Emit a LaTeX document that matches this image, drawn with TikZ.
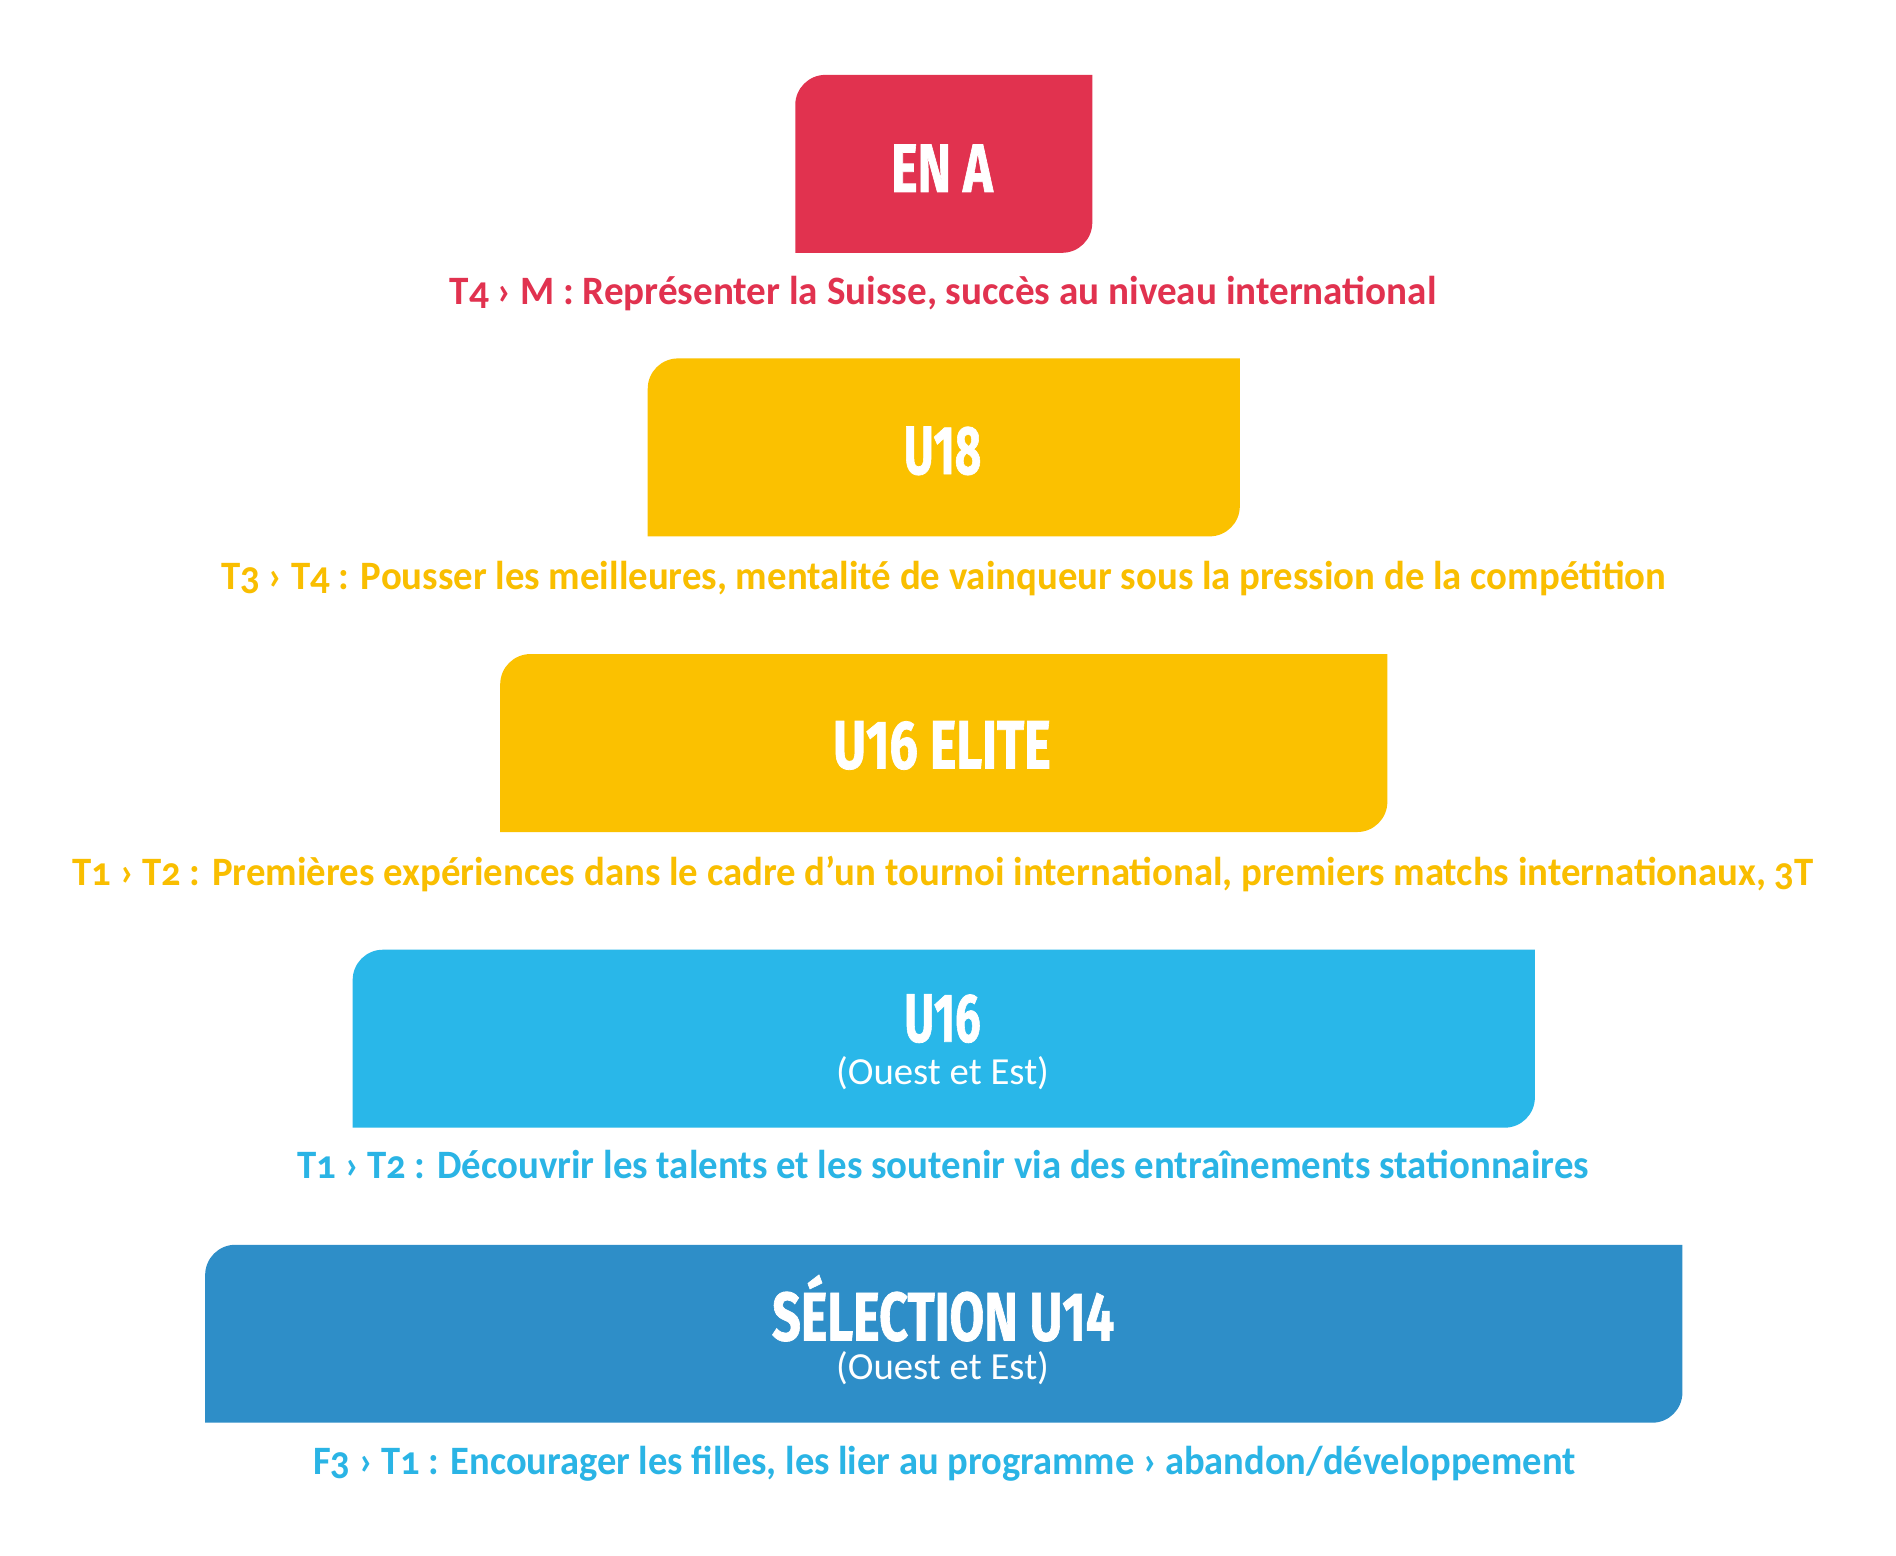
\documentclass[tikz,border=0pt]{standalone}
\usepackage{fontspec}
\setmainfont{Carlito}
\newfontfamily\lblfont[Numbers=OldStyle]{Carlito}
\newfontfamily\ttlfont[FakeBold=1.2]{Fira Sans}
\definecolor{cred}{HTML}{E1324F}
\definecolor{cyel}{HTML}{FBC100}
\definecolor{clblue}{HTML}{29B7E9}
\definecolor{cdblue}{HTML}{2E8EC8}
\definecolor{tyel}{HTML}{F9BE00}
\definecolor{tblue}{HTML}{2AB4E5}
\newsavebox\fitbox
\newcommand\fitw[2]{\sbox\fitbox{#2}\pgfmathsetmacro\fitsx{#1*0.6/\the\wd\fitbox}\scalebox{\fitsx}[1]{\usebox\fitbox}}
\newcommand\ttl[2]{\fitw{#1}{\ttlfont\bfseries\fontsize{34}{34}\selectfont #2}}
\newcommand\lbl[2]{\fitw{#1}{\lblfont\bfseries\fontsize{20}{20}\selectfont #2}}
\newcommand\sub[1]{\fitw{176}{\lblfont\fontsize{19}{19}\selectfont #1}}
\newcommand\tierbox[5]{% name, color, center x, center y, width (display px)
  \node[inner sep=0, minimum width=#5*0.6pt, minimum height=146.5*0.6pt] (#1) at (#3,#4) {};
  \fill[#2] (#1.south west) -- ([yshift=-15pt]#1.north west)
    arc[start angle=180, end angle=90, radius=15pt] -- (#1.north east)
    -- ([yshift=15pt]#1.south east)
    arc[start angle=0, end angle=-90, radius=15pt] -- cycle;}
\tikzset{
  ttlnode/.style={anchor=base, inner sep=0, text=white},
  lblnode/.style={anchor=base, inner sep=0},
}
\begin{document}
\begin{tikzpicture}[x=0.6pt, y=-0.6pt]
\useasboundingbox (0,0) rectangle (1568,1286.8);
\fill[white] (0,0) rectangle (1568,1286.8);

\tierbox{ena}{cred}{780.5}{135.5}{245}
\tierbox{u18}{cyel}{780.5}{370}{489}
\tierbox{u16e}{cyel}{780.5}{614.5}{733}
\tierbox{u16}{clblue}{780.5}{859}{977}
\tierbox{u14}{cdblue}{780.5}{1103}{1221}

\node[ttlnode] (tena) at (779,158.7) {\ttl{84}{EN A}};
\node[ttlnode] (tu18) at (779.5,392) {\ttl{64}{U18}};
\node[ttlnode] (tu16e) at (779,635.6) {\ttl{180}{U16 ELITE}};
\node[ttlnode] (tu16) at (779.5,861.5) {\ttl{63}{U16}};
\node[ttlnode] (su16) at (779.5,897) {\sub{(Ouest et Est)}};
\node[ttlnode] (tu14) at (780,1108.5) {\ttl{283}{SÉLECTION U14}};
\node[ttlnode] (su14) at (779.5,1141) {\sub{(Ouest et Est)}};

\node[lblnode, text=cred] (l1) at (780,252) {\lbl{816}{T4 › M : Représenter la Suisse, succès au niveau international}};
\node[lblnode, text=tyel] (l2) at (780.5,487.5) {\lbl{1195}{T3 › T4 : Pousser les meilleures, mentalité de vainqueur sous la pression de la compétition}};
\node[lblnode, text=tyel] (l3) at (780,732) {\lbl{1440}{T1 › T2 : Premières expériences dans le cadre d’un tournoi international, premiers matchs internationaux, 3T}};
\node[lblnode, text=tblue] (l4) at (780,975) {\lbl{1068}{T1 › T2 : Découvrir les talents et les soutenir via des entraînements stationnaires}};
\node[lblnode, text=tblue] (l5) at (781,1219) {\lbl{1044}{F3 › T1 : Encourager les filles, les lier au programme › abandon/développement}};
\end{tikzpicture}
\end{document}
